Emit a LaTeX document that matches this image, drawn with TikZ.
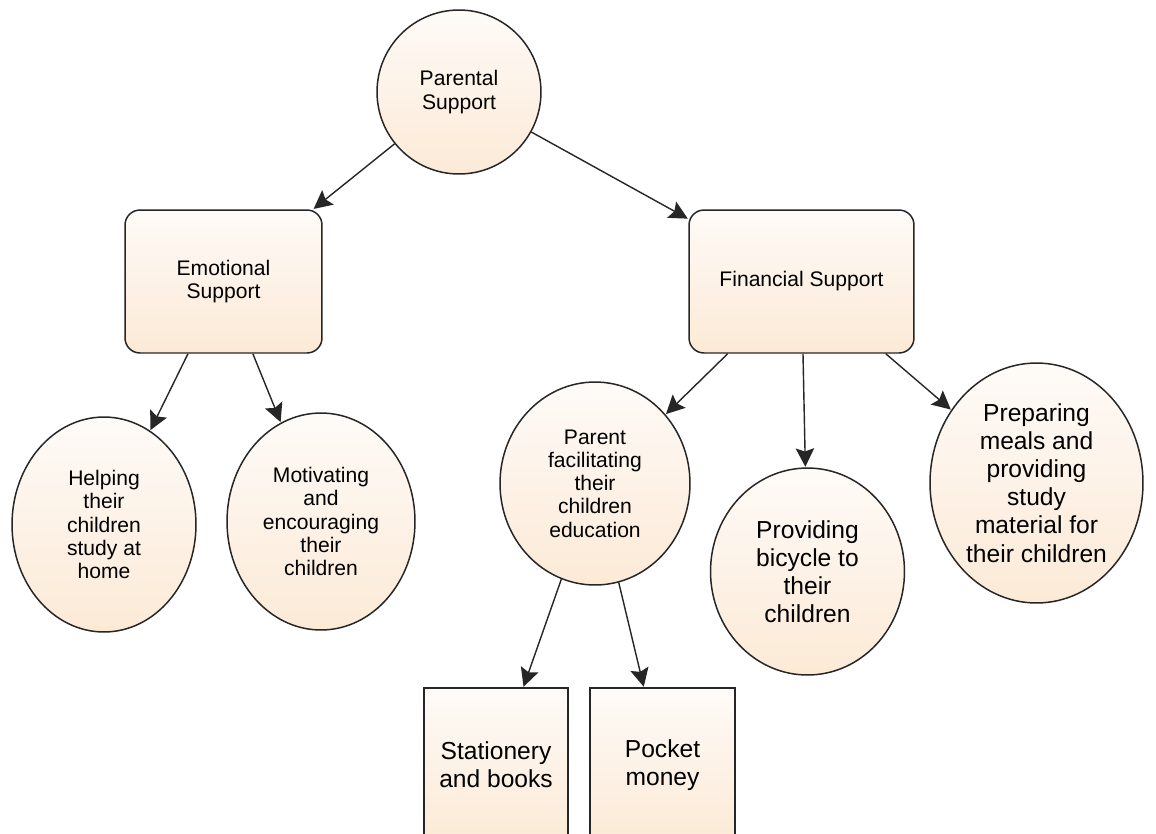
\documentclass[tikz,border=0pt]{standalone}
\usepackage{fontspec}
\setmainfont{Liberation Sans}
\usetikzlibrary{shapes.geometric,arrows.meta}
\definecolor{ptop}{RGB}{254,251,248}
\definecolor{pbot}{RGB}{252,234,214}
\definecolor{pmid}{RGB}{253,242,231}
\tikzset{
  fillpeach/.style={top color=ptop, bottom color=pbot, middle color=pmid},
  smalltext/.style={font=\fontsize{12}{13.2}\selectfont},
  bigtext/.style={font=\fontsize{14}{16}\selectfont},
  oval/.style={ellipse, draw=black!85, line width=0.85pt, fillpeach, inner sep=0pt, align=center},
  roundbox/.style={rectangle, rounded corners=0.3cm, draw=black!85, line width=0.85pt, fillpeach, inner sep=0pt, align=center},
  squarebox/.style={rectangle, draw=black!85, line width=0.85pt, fillpeach, inner sep=0pt, align=center},
  link/.style={draw=black!85, line width=0.8pt, -{Stealth[length=10.5pt,width=10.5pt,inset=1.8pt]}, shorten >=0.3pt}
}
\begin{document}
\begin{tikzpicture}[x=0.02cm,y=-0.02cm]
\clip (0,0) rectangle (1156,833);
\fill[white] (0,0) rectangle (1156,833);

\node[oval, smalltext, minimum width=3.28cm, minimum height=3.28cm] (ps) at (459,92) {Parental\\Support};
\node[roundbox, smalltext, minimum width=3.94cm, minimum height=2.86cm] (es) at (223.5,281.5) {Emotional\\Support};
\node[roundbox, smalltext, minimum width=4.5cm, minimum height=2.86cm] (fs) at (801.5,281.5) {Financial Support};

\node[oval, smalltext, minimum width=3.68cm, minimum height=4.3cm] (help) at (104,524.5) {Helping\\their\\children\\study at\\home};
\node[oval, smalltext, minimum width=3.76cm, minimum height=4.34cm] (mot) at (321,521.5) {Motivating\\and\\encouraging\\their\\children};
\node[oval, smalltext, minimum width=3.8cm, minimum height=4.06cm] (fac) at (595,483.5) {Parent\\facilitating\\their\\children\\education};
\node[oval, bigtext, minimum width=3.88cm, minimum height=4.14cm] (bic) at (807.5,571.5) {Providing\\bicycle to\\their\\children};
\node[oval, bigtext, minimum width=4.26cm, minimum height=4.8cm] (meal) at (1036.5,483) {Preparing\\meals and\\providing\\study\\material for\\their children};

\node[squarebox, bigtext, minimum width=2.88cm, minimum height=3.08cm] (stat) at (496,765) {Stationery\\and books};
\node[squarebox, bigtext, minimum width=2.9cm, minimum height=3.08cm] (pm) at (662.5,765) {Pocket\\money};

\draw[link] (ps) -- (es);
\draw[link] (ps) -- (fs);
\draw[link] (es) -- (help);
\draw[link] (es) -- (mot);
\draw[link] (fs) -- (fac);
\draw[link] (fs) -- (bic);
\draw[link] (fs) -- (meal);
\draw[link] (fac) -- (stat);
\draw[link] (fac) -- (pm);
\end{tikzpicture}
\end{document}
